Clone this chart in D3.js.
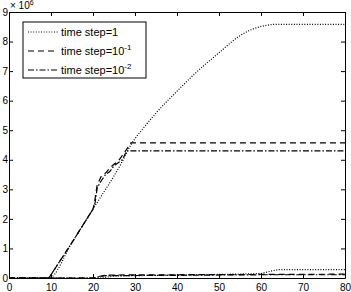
<!doctype html>
<html lang="en">
<head>
    <meta charset="utf-8">
    <title>time step comparison</title>
    <script src="https://cdn.jsdelivr.net/npm/d3@7"></script>
    <style>
        body { margin: 0; background: #fff; }
        svg { font-family: "Liberation Sans", Arial, sans-serif; }
    </style>
</head>
<body>
    <svg></svg>
    <script>
        var width = 351;
        var height = 292;
        var margin = { top: 12, right: 6, bottom: 14, left: 9 };

        var xTicks = [0, 10, 20, 30, 40, 50, 60, 70, 80];
        var yTicks = [0, 1, 2, 3, 4, 5, 6, 7, 8, 9];
        var labels = ["time step=1", "time step=10", "time step=10"];
        var labelExp = ["", "-1", "-2"];

        // values in units of 1e6
        var step1 = [[0, 0], [9.5, 0], [15, 1.2], [20, 2.33], [22, 2.78], [25, 3.45], [27, 3.95],
            [29, 4.5], [32, 5.07], [35, 5.58], [40, 6.32], [44, 6.88], [50, 7.62], [55, 8.2],
            [58, 8.42], [61, 8.54], [63.3, 8.58], [80, 8.58]];
        var step01 = [[0, 0], [9.5, 0], [15, 1.2], [20, 2.33], [20.4, 2.6], [21, 3.15], [22, 3.45],
            [23, 3.55], [24, 3.72], [25, 3.85], [26, 3.95], [27, 4.15], [28, 4.35], [29, 4.57], [80, 4.57]];
        var step001 = [[0, 0], [9.5, 0], [15, 1.2], [20, 2.33], [20.5, 2.55], [21, 3.05], [22, 3.3],
            [23, 3.5], [24, 3.6], [25, 3.8], [26, 3.9], [27, 4.0], [28, 4.3], [80, 4.3]];
        var low1 = [[0, 0], [22, 0], [25, 0.07], [30, 0.08], [40, 0.1], [50, 0.12], [60, 0.15],
            [62, 0.22], [64, 0.28], [80, 0.28]];
        var low01 = [[0, 0], [20, 0], [21, 0.04], [23, 0.1], [40, 0.11], [60, 0.12], [80, 0.13]];
        var low001 = [[0, 0], [20, 0], [21, 0.03], [23, 0.08], [40, 0.09], [60, 0.11], [80, 0.11]];

        var styles = ["1,1.6", "6,4", "6,2,1.5,2"];
        var series = [
            { d: step1, s: 0, smooth: true }, { d: step01, s: 1 }, { d: step001, s: 2 },
            { d: low1, s: 0 }, { d: low01, s: 1 }, { d: low001, s: 2 }
        ];

        var xScale = d3.scaleLinear().domain([0, 80]).range([margin.left, width - margin.right]);
        var yScale = d3.scaleLinear().domain([0, 9]).range([height - margin.bottom, margin.top]);

        var svg = d3.select('svg').attr('width', width).attr('height', height);

        var line = d3.line()
            .x(function (d) { return xScale(d[0]); })
            .y(function (d) { return yScale(d[1]); });
        var smoothLine = d3.line()
            .curve(d3.curveMonotoneX)
            .x(function (d) { return xScale(d[0]); })
            .y(function (d) { return yScale(d[1]); });

        svg.append('g').selectAll('path')
            .data(series)
            .enter()
            .append('path')
            .attr('d', function (d) { return d.smooth ? smoothLine(d.d) : line(d.d); })
            .attr('fill', 'none')
            .attr('stroke', '#000')
            .attr('stroke-width', 1.2)
            .attr('stroke-dasharray', function (d) { return styles[d.s]; });

        // axes with inward ticks
        var xAxis = d3.axisBottom(xScale).tickValues(xTicks).tickSizeInner(-4).tickSizeOuter(0).tickPadding(6);
        var yAxis = d3.axisLeft(yScale).tickValues(yTicks).tickSizeInner(-4).tickSizeOuter(0).tickPadding(3);
        var xTop = d3.axisTop(xScale).tickValues(xTicks).tickSizeInner(-4).tickSizeOuter(0).tickFormat('');
        var yRight = d3.axisRight(yScale).tickValues(yTicks).tickSizeInner(-4).tickSizeOuter(0).tickFormat('');

        var gx = svg.append('g').attr('transform', 'translate(0,' + yScale(0) + ')').call(xAxis);
        var gy = svg.append('g').attr('transform', 'translate(' + xScale(0) + ',0)').call(yAxis);
        var gt = svg.append('g').attr('transform', 'translate(0,' + yScale(9) + ')').call(xTop);
        var gr = svg.append('g').attr('transform', 'translate(' + xScale(80) + ',0)').call(yRight);
        [gx, gy, gt, gr].forEach(function (g) {
            g.selectAll('text').attr('font-size', '10px').attr('fill', '#000')
                .attr('font-family', '"Liberation Sans", Arial, sans-serif');
            g.selectAll('line,path').attr('stroke', '#000');
        });
        gy.selectAll('.tick text').attr('x', -1).attr('text-anchor', 'end');

        // exponent label
        var ex = svg.append('text').attr('x', 10).attr('y', 9).attr('font-size', '10px');
        ex.append('tspan').text('\u00d7 10');
        ex.append('tspan').attr('dy', -4).attr('font-size', '7px').text('6');

        // legend
        var leg = svg.append('g');
        leg.append('rect').attr('x', 23).attr('y', 22).attr('width', 123).attr('height', 56)
            .attr('fill', '#fff').attr('stroke', '#000').attr('stroke-width', 1);
        var rows = [32, 51, 70];
        labels.forEach(function (t, i) {
            leg.append('line').attr('x1', 28).attr('x2', 58).attr('y1', rows[i]).attr('y2', rows[i])
                .attr('stroke', '#000').attr('stroke-width', 1.2).attr('stroke-dasharray', styles[i]);
            var tx = leg.append('text').attr('x', 61).attr('y', rows[i] + 4).attr('font-size', '11px');
            tx.append('tspan').text(t);
            if (labelExp[i]) tx.append('tspan').attr('dy', -5).attr('font-size', '8px').text(labelExp[i]);
        });
    </script>
</body>
</html>
